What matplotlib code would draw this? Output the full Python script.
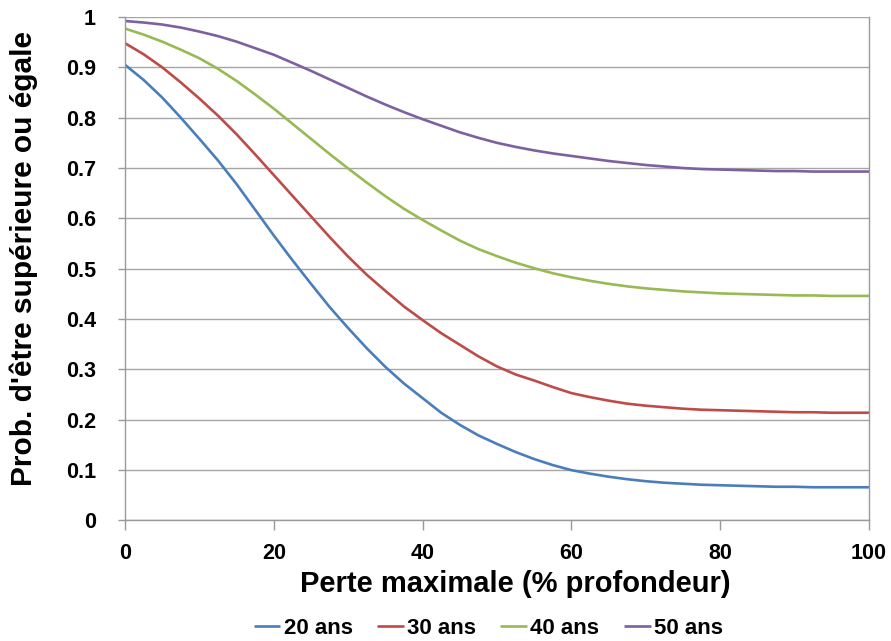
import matplotlib
matplotlib.use("Agg")
import matplotlib.pyplot as plt

x = [0, 2.5, 5, 7.5, 10, 12.5, 15, 17.5, 20, 22.5, 25, 27.5, 30, 32.5, 35, 37.5, 40, 42.5, 45, 47.5,
     50, 52.5, 55, 57.5, 60, 62.5, 65, 67.5, 70, 72.5, 75, 77.5, 80, 82.5, 85, 87.5, 90, 92.5, 95, 97.5, 100]
ans20 = [0.905, 0.875, 0.84, 0.80, 0.758, 0.715, 0.668, 0.617, 0.566, 0.517, 0.47, 0.424, 0.382, 0.342,
         0.305, 0.272, 0.243, 0.214, 0.19, 0.169, 0.152, 0.136, 0.122, 0.110, 0.100, 0.093, 0.087, 0.082,
         0.078, 0.075, 0.073, 0.071, 0.070, 0.069, 0.068, 0.067, 0.067, 0.066, 0.066, 0.066, 0.066]
ans30 = [0.948, 0.926, 0.90, 0.870, 0.838, 0.804, 0.767, 0.727, 0.686, 0.645, 0.604, 0.563, 0.524, 0.488,
         0.456, 0.425, 0.398, 0.372, 0.349, 0.326, 0.306, 0.290, 0.278, 0.265, 0.253, 0.245, 0.238, 0.232,
         0.228, 0.225, 0.222, 0.220, 0.219, 0.218, 0.217, 0.216, 0.215, 0.215, 0.214, 0.214, 0.214]
ans40 = [0.977, 0.965, 0.951, 0.935, 0.918, 0.897, 0.873, 0.846, 0.818, 0.788, 0.758, 0.728, 0.699, 0.671,
         0.644, 0.619, 0.597, 0.576, 0.556, 0.539, 0.525, 0.512, 0.501, 0.491, 0.483, 0.476, 0.470, 0.465,
         0.461, 0.458, 0.455, 0.453, 0.451, 0.450, 0.449, 0.448, 0.447, 0.447, 0.446, 0.446, 0.446]
ans50 = [0.992, 0.989, 0.985, 0.979, 0.971, 0.962, 0.951, 0.938, 0.925, 0.909, 0.893, 0.876, 0.859, 0.842,
         0.826, 0.811, 0.797, 0.784, 0.771, 0.760, 0.750, 0.742, 0.735, 0.729, 0.724, 0.719, 0.714, 0.710,
         0.706, 0.703, 0.700, 0.698, 0.697, 0.696, 0.695, 0.694, 0.694, 0.693, 0.693, 0.693, 0.693]
series = [("20 ans", ans20, "#4A7EBB"), ("30 ans", ans30, "#BE4B48"),
          ("40 ans", ans40, "#98B954"), ("50 ans", ans50, "#7D60A0")]
xticks = [0, 20, 40, 60, 80, 100]
yticks = [0, 0.1, 0.2, 0.3, 0.4, 0.5, 0.6, 0.7, 0.8, 0.9, 1]
ytick_labels = ["0", "0.1", "0.2", "0.3", "0.4", "0.5", "0.6", "0.7", "0.8", "0.9", "1"]

plt.rcParams['font.family'] = ['Liberation Sans', 'DejaVu Sans']
plt.rcParams['font.weight'] = 'bold'

fig = plt.figure(figsize=(8.91, 6.41), dpi=100)
ax = fig.add_axes([0.1403, 0.188, 0.835, 0.7855])

for name, vals, col in series:
    ax.plot(x, vals, color=col, lw=1.9, label=name, solid_capstyle='butt')

ax.set_xlim(0, 100)
ax.set_ylim(0, 1)
ax.set_xticks(xticks)
ax.set_yticks(yticks)
ax.set_yticklabels(ytick_labels)
ax.grid(axis='y', color='#A6A6A6', lw=1.0)
ax.set_axisbelow(True)
for s in ['left', 'bottom', 'right']:
    ax.spines[s].set_color('#999999')
    ax.spines[s].set_linewidth(1.0)
ax.spines['top'].set_visible(False)
ax.tick_params(axis='x', length=7, width=1, color='#999999', pad=9, labelsize=15.5)
ax.tick_params(axis='y', length=5, width=1, color='#999999', pad=16, labelsize=15.5)
for lab in ax.get_xticklabels() + ax.get_yticklabels():
    lab.set_fontweight('bold')

ax.set_xlabel("Perte maximale (% profondeur)", fontsize=21, fontweight='bold')
ax.xaxis.set_label_coords(0.524, -0.098)
ax.set_ylabel("Prob. d'être supérieure ou égale", fontsize=21.5, fontweight='bold')
ax.yaxis.set_label_coords(-0.117, 0.52)

leg = fig.legend(loc='center', bbox_to_anchor=(0.548, 0.02), ncol=4, frameon=False,
                 fontsize=16, handlelength=1.2, handletextpad=0.15, columnspacing=1.1)
for t in leg.get_texts():
    t.set_fontweight('bold')

fig.savefig("out.png", dpi=100)
